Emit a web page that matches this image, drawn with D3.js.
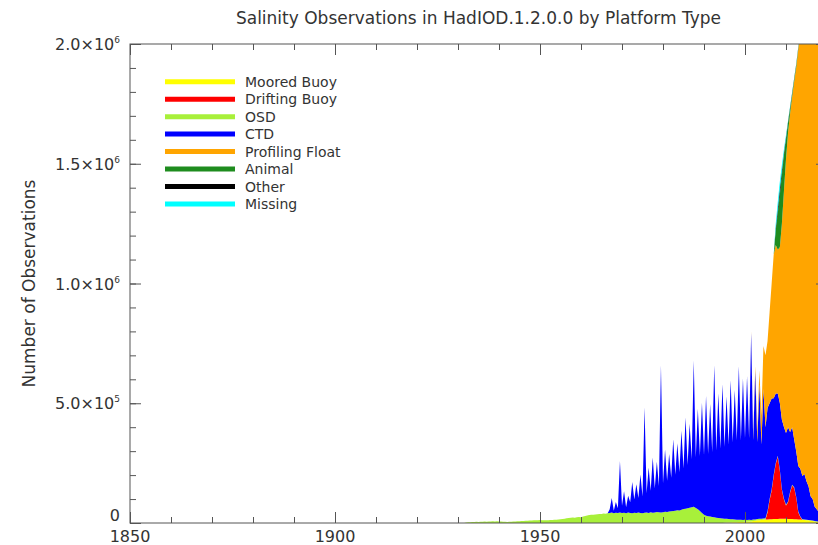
<!DOCTYPE html>
<html>
<head>
<meta charset="utf-8">
<script src="https://cdn.jsdelivr.net/npm/d3@7"></script>
<style>
body { margin: 0; background: #fff; }
text { font-family: "DejaVu Sans", sans-serif; fill: #333; }
</style>
</head>
<body>
<svg id="chart" width="818" height="545"></svg>
<script>
// text
const title = "Salinity Observations in HadIOD.1.2.0.0 by Platform Type";
const yTitle = "Number of Observations";

// platform types, bottom of the stack first (same order as the legend)
const platforms = ["Moored Buoy", "Drifting Buoy", "OSD", "CTD", "Profiling Float", "Animal", "Other", "Missing"];
const colours = ["#ffff00", "#ff0000", "#a8f03a", "#0000ff", "#ffa500", "#1e8c1e", "#000000", "#00ffff"];

// counts, one value every half year, in thousands
const osdStart = 1930;
const osd = [
  0, 0, 0, 0,
  2, 3, 3, 4, 4, 5, 4, 5, 5, 6, 5, 6, 6, 7, 6, 7,
  6, 6, 5, 5, 4, 5, 5, 6, 6, 7, 7, 8, 8, 9, 9, 10, 10, 11, 11, 12,
  13, 12, 11, 12, 12, 13, 13, 14, 14, 15, 16, 17, 18, 20, 21, 22, 23, 22, 24, 25,
  24, 27, 29, 31, 33, 34, 34, 36, 37, 38, 38, 40, 39, 41, 42, 44, 41, 43, 42, 44,
  42, 43, 41, 44, 42, 41, 43, 42, 44, 42, 41, 43, 44, 42, 45, 43, 44, 46, 45, 44,
  45, 47, 46, 48, 49, 50, 51, 53, 52, 55, 58, 60, 62, 64, 66, 68, 63, 57, 50, 42,
  34, 30, 28, 27, 25, 24, 22, 21, 20, 19, 17, 16, 15, 14, 13, 12, 11, 10, 10, 9,
  9, 8, 8, 7, 7, 6, 6, 6, 5, 5, 5, 5, 4, 4, 4, 4, 4, 3, 3, 3,
  3, 3, 3, 3, 3, 3, 3, 2, 2, 2, 2, 2, 2, 2, 2, 2, 2
];

const ctdStart = 1966;
const ctd = [
  0, 0, 15, 60, 10, 45, 20, 215,                                      // 1966-69
  30, 90, 25, 70, 45, 130, 55, 120, 60, 160,                          // 1970-74
  70, 440, 80, 190, 90, 230, 100, 210, 110, 615,                      // 1975-79
  120, 260, 130, 240, 140, 300, 150, 280, 160, 330,                   // 1980-84
  170, 380, 180, 350, 200, 610, 210, 420, 230, 460,                   // 1985-89
  250, 500, 260, 470, 270, 635, 280, 520, 290, 560,                   // 1990-94
  300, 510, 310, 580, 320, 540, 330, 640, 330, 590,                   // 1995-99
  340, 600, 340, 780, 330, 620, 320, 560, 310, 540,                   // 2000-04
  380, 430, 400, 380, 320, 290, 260, 280, 290, 300,                   // 2005-09
  300, 310, 250, 240, 200, 190, 190, 200, 180, 190,                   // 2010-14
  160, 140, 100, 90, 60, 50, 40                                       // 2015-18
];

const mooredStart = 1995;
const moored = [
  1, 2, 2, 2, 3, 3, 3, 4, 4, 4, 5, 5, 6, 6, 8, 9, 11, 12, 13, 14,
  15, 15, 16, 16, 17, 17, 17, 18, 18, 18, 18, 17, 17, 17, 16, 16, 15, 15, 14, 13,
  12, 11, 10, 8, 6, 5, 4
];

const driftingStart = 2005;
const drifting = [0, 30, 80, 120, 180, 230, 260, 200, 120, 80, 55, 70, 110, 140, 130, 90, 30, 10, 0];

const floatStart = 2000;
const floats = [
  2, 3, 5, 8, 12, 20, 40, 60, 120, 180,
  300, 280, 380, 480, 600, 620, 600, 650, 820, 985,
  1144, 1230, 1330, 1380, 1495, 1605, 1740, 1820, 1950, 2020,
  2120, 2190, 2280, 2340, 2420, 2490, 2550
];

const animalStart = 2007;
const animal = [0, 60, 150, 220, 200, 150, 80, 40, 20, 10, 10, 10, 5, 5, 0];
const other = [0, 10, 20, 25, 20, 10, 10, 5, 5, 5, 3, 3, 3, 3, 0];
const missing = [0, 20, 30, 30, 25, 15, 10, 5, 5, 5, 2, 2, 2, 2, 0];

// axes
const xMajor = [1850, 1900, 1950, 2000];
const yMajor = [0, 5e5, 1e6, 1.5e6, 2e6];
const yLabels = [["0", ""], ["5.0", "5"], ["1.0", "6"], ["1.5", "6"], ["2.0", "6"]];

// size and boundary
const svg = d3.select("#chart");
const plotLeft = 130, plotRight = 827, plotTop = 44, plotBottom = 523;

const x = d3.scaleLinear().domain([1850, 2020]).range([plotLeft, plotRight]);
const y = d3.scaleLinear().domain([0, 2e6]).range([plotBottom, plotTop]);

// build the half-yearly table
const series = [
  { start: mooredStart, values: moored },
  { start: driftingStart, values: drifting },
  { start: osdStart, values: osd },
  { start: ctdStart, values: ctd },
  { start: floatStart, values: floats },
  { start: animalStart, values: animal },
  { start: animalStart, values: other },
  { start: animalStart, values: missing }
];

const rows = d3.range(1930, 2018.25, 0.5).map(t => {
  const row = { year: t };
  platforms.forEach((p, i) => {
    const s = series[i];
    const k = Math.round((t - s.start) * 2);
    row[p] = (k >= 0 && k < s.values.length ? s.values[k] : 0) * 1000;
  });
  return row;
});

const stacked = d3.stack().keys(platforms)(rows);

svg.append("defs").append("clipPath").attr("id", "plot-clip")
  .append("rect")
  .attr("x", plotLeft).attr("y", plotTop)
  .attr("width", plotRight - plotLeft).attr("height", plotBottom - plotTop);

const area = d3.area()
  .x(d => x(d.data.year))
  .y0(d => y(d[0]))
  .y1(d => y(d[1]));

svg.append("g")
  .attr("clip-path", "url(#plot-clip)")
  .selectAll("path")
  .data(stacked)
  .join("path")
  .attr("fill", (d, i) => colours[i])
  .attr("d", area);

// frame and ticks
const axisColour = "#555";

svg.append("rect")
  .attr("x", plotLeft).attr("y", plotTop)
  .attr("width", plotRight - plotLeft).attr("height", plotBottom - plotTop)
  .attr("fill", "none")
  .attr("stroke", axisColour);

function tickAxis(axis, values, size, transform) {
  const g = svg.append("g")
    .attr("transform", transform)
    .call(axis.tickValues(values).tickSize(-size).tickFormat(""));
  g.select(".domain").remove();
  g.selectAll("line").attr("stroke", axisColour);
  return g;
}

const xMinor = d3.range(1850, 2021, 10);
const yMinor = d3.range(0, 2e6 + 1, 1e5);

tickAxis(d3.axisBottom(x), xMinor, 6, `translate(0,${plotBottom})`);
tickAxis(d3.axisBottom(x), xMajor, 11, `translate(0,${plotBottom})`);
tickAxis(d3.axisTop(x), xMinor, 6, `translate(0,${plotTop})`);
tickAxis(d3.axisTop(x), xMajor, 11, `translate(0,${plotTop})`);
tickAxis(d3.axisLeft(y), yMinor, 6, `translate(${plotLeft},0)`);
tickAxis(d3.axisLeft(y), yMajor, 11, `translate(${plotLeft},0)`);
tickAxis(d3.axisRight(y), yMinor, 6, `translate(${plotRight},0)`);
tickAxis(d3.axisRight(y), yMajor, 11, `translate(${plotRight},0)`);

// tick labels
svg.append("g").selectAll("text")
  .data(xMajor)
  .join("text")
  .attr("x", d => x(d))
  .attr("y", plotBottom + 19)
  .attr("text-anchor", "middle")
  .attr("font-size", 16)
  .text(d => d);

const yl = svg.append("g").selectAll("text")
  .data(yMajor)
  .join("text")
  .attr("x", plotLeft - 10)
  .attr("y", d => y(d) + (d === 0 ? -2 : 6))
  .attr("text-anchor", "end")
  .attr("font-size", 16);

yl.each(function(d, i) {
  const [m, e] = yLabels[i];
  const t = d3.select(this);
  if (!e) { t.text(m); return; }
  t.append("tspan").text(m + "\u00d710");
  t.append("tspan").attr("dy", -7).attr("font-size", 9).text(e);
});

// titles
svg.append("text")
  .attr("x", (plotLeft + plotRight) / 2)
  .attr("y", 24)
  .attr("text-anchor", "middle")
  .attr("font-size", 17)
  .text(title);

svg.append("text")
  .attr("transform", `translate(35,${(plotTop + plotBottom) / 2}) rotate(-90)`)
  .attr("text-anchor", "middle")
  .attr("font-size", 17)
  .text(yTitle);

// legend
const legend = svg.append("g")
  .selectAll("g")
  .data(platforms)
  .join("g")
  .attr("transform", (d, i) => `translate(0,${81.7 + i * 17.47})`);

legend.append("line")
  .attr("x1", 165).attr("x2", 235)
  .attr("stroke", (d, i) => colours[i])
  .attr("stroke-width", 5);

legend.append("text")
  .attr("x", 245)
  .attr("y", 5)
  .attr("font-size", 14)
  .text(d => d);
</script>
</body>
</html>
